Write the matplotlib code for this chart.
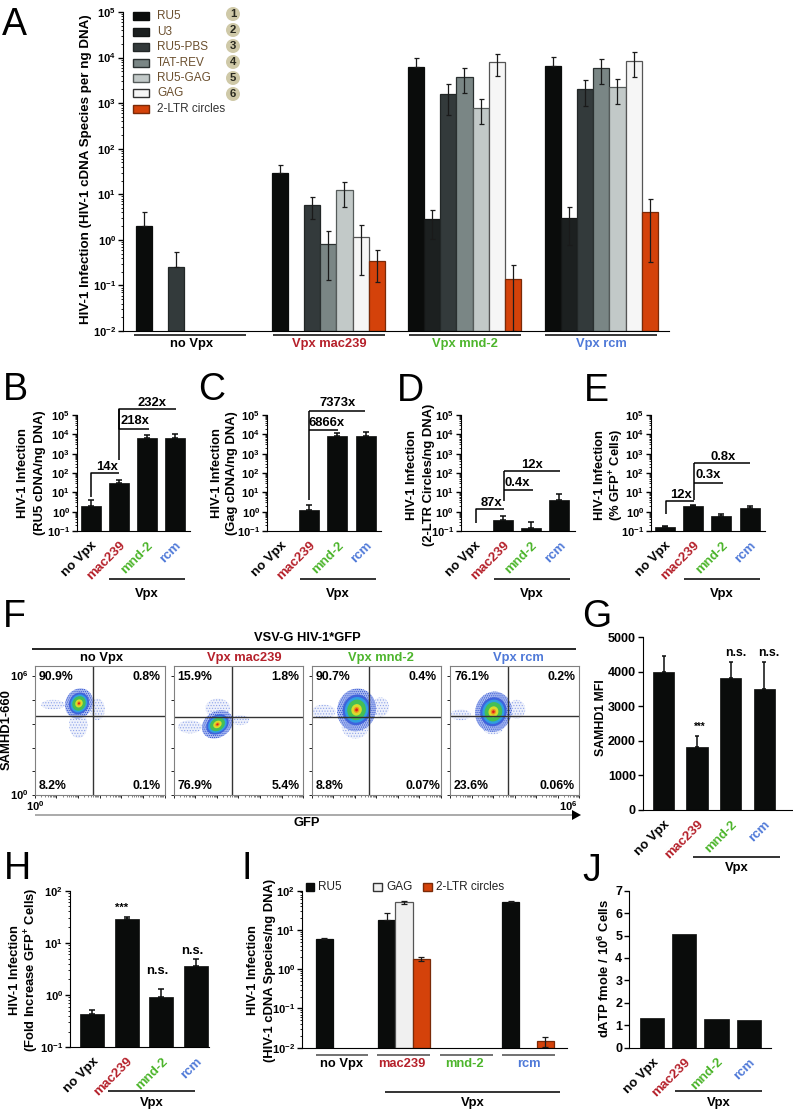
import math

import matplotlib
matplotlib.use("Agg")
import matplotlib.pyplot as plt
from matplotlib.lines import Line2D
from matplotlib.patches import Ellipse, Polygon, Rectangle
from matplotlib.ticker import FuncFormatter, LogLocator, NullFormatter
from matplotlib.transforms import ScaledTranslation

W, H = 793, 1112
BLACK = "#0a0c0b"
RED = "#b5202a"
GREEN = "#4db52c"
BLUE = "#4f79d8"
ORANGE = "#d4420a"

# panel A
GROUPS = ["no Vpx", "Vpx mac239", "Vpx mnd-2", "Vpx rcm"]
GROUP_COLORS = ["black", RED, GREEN, BLUE]
SPECIES = ["RU5", "U3", "RU5-PBS", "TAT-REV", "RU5-GAG", "GAG", "2-LTR circles"]
SPECIES_COLORS = [BLACK, "#1c2020", "#333a3b", "#7a8685", "#c2c9c8", "#f6f6f6", ORANGE]
SPECIES_EDGES = [BLACK, "#141616", "#222727", "#2a3030", "#555b5a", "#555555", "#7a2a08"]
A_VALUES = [
    [2.0, 29, 6300, 6620],
    [None, None, 2.8, 3.0],
    [0.26, 5.7, 1580, 2030],
    [None, 0.83, 3800, 5890],
    [None, 12.2, 789, 2210],
    [None, 1.17, 7970, 8530],
    [None, 0.35, 0.14, 4.07],
]
A_UPPER = [
    [4.0, 45, 9600, 10400],
    [None, None, 4.5, 5.16],
    [0.53, 8.6, 2620, 3150],
    [None, 1.56, 5790, 9130],
    [None, 18.9, 1225, 3430],
    [None, 2.14, 11970, 13200],
    [None, 0.585, 0.278, 7.87],
]
A_LOWER = [
    [2.0, 29, 6300, 6620],
    [None, None, 1.02, 0.79],
    [0.26, 2.86, 553, 845],
    [None, 0.13, 1690, 2570],
    [None, 5.3, 351, 935],
    [None, 0.173, 3924, 3730],
    [None, 0.116, 0.0101, 0.33],
]

# panels B-E, same four categories
CATS = ["no Vpx", "mac239", "mnd-2", "rcm"]
CAT_COLORS = ["black", RED, GREEN, BLUE]
B_VALUES = [2.06, 29.8, 6450, 6700]
B_UPPER = [4.06, 44, 9230, 10000]
C_VALUES = [None, 1.17, 7870, 8520]
C_UPPER = [None, 2.2, 11300, 12600]
D_VALUES = [None, 0.37, 0.143, 4.06]
D_UPPER = [None, 0.6, 0.28, 8.0]
E_VALUES = [0.155, 1.98, 0.625, 1.56]
E_UPPER = [0.19, 2.3, 0.73, 1.9]

# panel F, flow plots
F_TITLES = ["no Vpx", "Vpx mac239", "Vpx mnd-2", "Vpx rcm"]
F_UL = ["90.9%", "15.9%", "90.7%", "76.1%"]
F_UR = ["0.8%", "1.8%", "0.4%", "0.2%"]
F_LL = ["8.2%", "76.9%", "8.8%", "23.6%"]
F_LR = ["0.1%", "5.4%", "0.07%", "0.06%"]
F_VLINE = [2.68, 2.7, 2.68, 2.68]
F_HLINE = [3.32, 3.28, 3.3, 3.32]
# dense population: x, y, width, height in decades, tilt
F_MAIN = [(2.05, 3.85, 1.35, 1.2, 40), (2.03, 2.97, 1.5, 1.1, 25), (2.09, 3.58, 1.85, 1.75, 40), (2.02, 3.5, 1.75, 1.65, 40)]
F_SPARSE = [
    [(2.02, 2.95, 0.85, 1.1), (0.85, 3.8, 1.1, 0.4), (2.9, 3.6, 0.7, 0.9)],
    [(2.05, 3.65, 1.15, 0.8), (3.07, 3.15, 0.85, 0.42), (0.76, 2.87, 1.1, 0.55)],
    [(2.03, 2.88, 1.25, 1.0), (0.56, 3.5, 1.1, 0.6), (3.2, 3.7, 0.8, 0.8)],
    [(2.0, 2.95, 1.1, 0.8), (0.5, 3.37, 0.95, 0.45), (3.1, 3.6, 0.8, 0.8)],
]
F_LAYERS = [0.72, 0.6, 0.48, 0.27, 0.14, 0.07]
F_LAYER_COLORS = ["#3f63dc", "#2f9fe0", "#45bf55", "#d8dc2c", "#f09020", "#d8201a"]

# panel G
G_VALUES = [3980, 1808, 3817, 3510]
G_UPPER = [4460, 2125, 4270, 4290]

# panel H
H_VALUES = [0.43, 28.6, 0.92, 3.55]
H_UPPER = [0.52, 31.8, 1.29, 5.0]

# panel I
I_GROUPS = ["no Vpx", "mac239", "mnd-2", "rcm"]
I_RU5 = [5.87, 18.3, None, 52.5]
I_RU5_UP = [6.1, 26.5, None, 55.6]
I_GAG = [None, 50.5, None, None]
I_GAG_UP = [None, 55.6, None, None]
I_GAG_LOW = [None, 46, None, None]
I_LTR = [None, 1.82, None, 0.0151]
I_LTR_UP = [None, 2.0, None, 0.019]
I_LTR_LOW = [None, 1.62, None, 0.0102]

# panel J
J_VALUES = [1.34, 5.08, 1.29, 1.25]

plt.rcParams["font.family"] = ["Liberation Sans", "DejaVu Sans"]
plt.rcParams["mathtext.fontset"] = "custom"
plt.rcParams["mathtext.bf"] = "Liberation Sans:bold"
plt.rcParams["mathtext.rm"] = "Liberation Sans"
plt.rcParams["hatch.linewidth"] = 0.5

fig = plt.figure(figsize=(W / 100, H / 100), dpi=100)


def px_axes(left, top, right, bottom):
    ax = fig.add_axes([left / W, 1 - bottom / H, (right - left) / W, (bottom - top) / H])
    ax.patch.set_alpha(0)
    ax.spines["top"].set_visible(False)
    ax.spines["right"].set_visible(False)
    ax.tick_params(axis="x", length=0)
    ax.tick_params(axis="y", which="major", length=3.5, width=1, pad=1.5)
    return ax


def ftext(x, y, s, size=9.4, weight="bold", color="black", ha="center", va="center", rotation=0):
    fig.text(x / W, 1 - y / H, s, fontsize=size, fontweight=weight, color=color,
             ha=ha, va=va, rotation=rotation)


def fline(xs, ys, lw=1.1, color="black"):
    fig.add_artist(Line2D([x / W for x in xs], [1 - y / H for y in ys], lw=lw, color=color,
                          solid_capstyle="butt"))


def frect(x, y, w, h, face, edge):
    fig.add_artist(Rectangle((x / W, 1 - (y + h) / H), w / W, h / H, facecolor=face,
                             edgecolor=edge, lw=1, transform=fig.transFigure))


def log_ticks(ax, ymin, ymax):
    ax.set_yscale("log")
    ax.set_ylim(ymin, ymax)
    ax.yaxis.set_major_locator(LogLocator(base=10, numticks=12))
    ax.yaxis.set_minor_locator(LogLocator(base=10, subs=range(2, 10), numticks=12))
    ax.yaxis.set_minor_formatter(NullFormatter())
    ax.yaxis.set_major_formatter(FuncFormatter(lambda v, p: r"$\mathbf{10^{%d}}$" % round(math.log10(v))))
    ax.tick_params(axis="y", which="minor", length=1.8, width=0.6)
    ax.tick_params(axis="y", which="major", labelsize=8)


def cat_bars(ax, values, upper, ymin, width=0.71, cap=2.4, dx=3, dy=4):
    for i, v in enumerate(values):
        if v is None:
            continue
        ax.bar(i, v - ymin, bottom=ymin, width=width, color=BLACK, edgecolor=BLACK, lw=0.5)
        if upper is not None:
            ax.errorbar(i, v, yerr=[[0], [upper[i] - v]], color=BLACK, lw=1.1, capsize=cap, capthick=1.1)
    ax.set_xlim(-0.5, 3.55)
    ax.set_xticks(range(4))
    ax.set_xticklabels(CATS, rotation=45, ha="right", va="top", rotation_mode="anchor",
                       fontsize=9.5, fontweight="bold")
    shift = ScaledTranslation(dx / 100, dy / 100, fig.dpi_scale_trans)
    for lab, c in zip(ax.get_xticklabels(), CAT_COLORS):
        lab.set_color(c)
        lab.set_transform(lab.get_transform() + shift)
    ax.tick_params(axis="x", pad=6)


def vpx_rule(x0, x1, y, text_y, color="#333333"):
    fline([x0, x1], [y, y], lw=1.4, color=color)
    ftext((x0 + x1) / 2, text_y, "Vpx", size=9.4)


# ---- A ----
ax = px_axes(123, 12, 669, 331)
log_ticks(ax, 1e-2, 1e5)
group_starts = [0.8, 9.25, 17.7, 26.2]
for s, (name, vals, ups, lows) in enumerate(zip(SPECIES, A_VALUES, A_UPPER, A_LOWER)):
    for g, v in enumerate(vals):
        if v is None:
            continue
        x = group_starts[g] + s + 0.5
        ax.bar(x, v - 1e-2, bottom=1e-2, width=1, color=SPECIES_COLORS[s], edgecolor=SPECIES_EDGES[s], lw=0.9)
        ax.errorbar(x, v, yerr=[[v - lows[g]], [ups[g] - v]], color="#1a1a1a", lw=0.9, capsize=1.8, capthick=0.9)
ax.set_xlim(0, 33.9)
ax.set_xticks([])
ftext(86, 169, "HIV-1 Infection (HIV-1 cDNA Species per ng DNA)", size=9.6, rotation=90)
for x0, x1, cx, g, c in zip([134, 273, 409, 545], [246, 385, 521, 657], [192, 329, 465, 601], GROUPS, GROUP_COLORS):
    fline([x0, x1], [334.7, 334.7])
    ftext(cx, 344.5, g, color=c, size=9.3)
for i, (name, col, edge) in enumerate(zip(SPECIES, SPECIES_COLORS, SPECIES_EDGES)):
    yc = 16.3 + i * 15.4
    frect(133, yc - 4, 16, 8, col, edge if col != "#f6f6f6" else "#333333")
    ftext(157, yc, name, size=8.5, weight="normal", color="#6b4f2e" if i < 6 else "#333333", ha="left")
    if i < 6:
        cy = 14 + i * 16
        fig.add_artist(Ellipse((233 / W, 1 - cy / H), 14 / W, 14 / H, facecolor="#cfc9a8",
                               edgecolor="none", transform=fig.transFigure))
        ftext(233, cy, str(i + 1), size=8.2, color="#2a2a20")

# ---- B ----
ax = px_axes(77, 415, 190, 531)
log_ticks(ax, 1e-1, 1e5)
cat_bars(ax, B_VALUES, B_UPPER, 1e-1)
ftext(23, 473, "HIV-1 Infection", rotation=90)
ftext(40, 473, "(RU5 cDNA/ng DNA)", rotation=90)
fline([90.7, 90.7, 119.3], [496.7, 472.7, 472.7])
ftext(106.7, 466.5, "14x")
fline([149, 119.3, 119.3, 176], [429.3, 429.3, 409, 409])
fline([119.3, 119.3], [460, 409])
ftext(135, 421.5, "218x")
ftext(152.3, 403.3, "232x")
vpx_rule(109, 185, 579, 594)

# ---- C ----
ax = px_axes(267, 415, 381, 531)
log_ticks(ax, 1e-1, 1e5)
cat_bars(ax, C_VALUES, C_UPPER, 1e-1)
ftext(217, 473, "HIV-1 Infection", rotation=90)
ftext(232, 473, "(Gag cDNA/ng DNA)", rotation=90)
fline([309, 309], [500, 410.7])
fline([309, 337.7], [430, 430])
fline([309, 365], [410.7, 410.7])
ftext(327, 423, "6866x")
ftext(337.7, 403.3, "7373x")
vpx_rule(300, 376, 579, 594)

# ---- D ----
ax = px_axes(460.7, 415, 575, 531)
log_ticks(ax, 1e-1, 1e5)
cat_bars(ax, D_VALUES, D_UPPER, 1e-1)
ftext(412, 475, "HIV-1 Infection", rotation=90)
ftext(429, 475, "(2-LTR Circles/ng DNA)", rotation=90)
fline([475.7, 475.7, 504.3], [522.7, 509, 509])
ftext(491, 503, "87x")
fline([503.7, 503.7], [500.7, 471.3])
fline([503.7, 532.7], [490.3, 490.3])
fline([503.7, 560.3], [471.3, 471.3])
ftext(517.7, 483.3, "0.4x")
ftext(532.3, 464.7, "12x")
vpx_rule(494, 570, 579, 594)

# ---- E ----
ax = px_axes(651, 415, 765, 531)
log_ticks(ax, 1e-1, 1e5)
cat_bars(ax, E_VALUES, E_UPPER, 1e-1)
ftext(600, 475, "HIV-1 Infection", rotation=90)
ftext(616.5, 475, r"(% GFP$^{\mathbf{+}}$ Cells)", rotation=90)
fline([665.7, 665.7, 694], [514.3, 501, 501])
ftext(681, 495, "12x")
fline([694, 694], [500, 463.3])
fline([694, 722.7], [482.7, 482.7])
fline([694, 750], [463.3, 463.3])
ftext(707.7, 475.3, "0.3x")
ftext(722.7, 456.7, "0.8x")
vpx_rule(684, 760, 579, 594)

# ---- F ----
ftext(307, 637.7, "VSV-G HIV-1*GFP", size=9.3)
fline([32, 576], [648.7, 648.7], lw=1.2)
box_left = [34.6, 173.5, 311.6, 450]
box_right = [164.5, 303.4, 440.7, 579]
box_cx = [101, 244.6, 381, 518]
BOX_TOP, BOX_BOTTOM = 665.7, 795.3
title_colors = ["black", RED, GREEN, BLUE]
for i in range(4):
    ax = fig.add_axes([box_left[i] / W, 1 - BOX_BOTTOM / H, (box_right[i] - box_left[i]) / W, (BOX_BOTTOM - BOX_TOP) / H])
    ax.set_xlim(0, 6)
    ax.set_ylim(0, 5.43)
    for sp in ax.spines.values():
        sp.set_color("#808080")
    ax.set_xticks(range(7))
    ax.set_xticks([t + m for t in range(6) for m in (0.3, 0.48, 0.6, 0.7, 0.78, 0.85, 0.9, 0.95)], minor=True)
    ax.set_yticks(range(6))
    ax.set_xticklabels([])
    ax.set_yticklabels([])
    ax.tick_params(which="major", length=2.5, width=0.7, color="#222222")
    ax.tick_params(which="minor", length=1.2, width=0.4, color="#222222")
    for bx, by, bw, bh in F_SPARSE[i]:
        ax.add_patch(Ellipse((bx, by), bw, bh, facecolor="#eef1fb", edgecolor="#8fa4ea", hatch="......", lw=0))
    mx, my, mw, mh, tilt = F_MAIN[i]
    ax.add_patch(Ellipse((mx, my), mw, mh, angle=tilt, facecolor="#a9baf0", edgecolor="#2f50d0",
                         hatch="........", lw=0))
    for scale, col in zip(F_LAYERS, F_LAYER_COLORS):
        ax.add_patch(Ellipse((mx, my), mw * scale, mh * scale, angle=tilt, facecolor=col, edgecolor="none"))
    ax.axvline(F_VLINE[i], color="#333333", lw=1)
    ax.axhline(F_HLINE[i], color="#333333", lw=1)
    ftext(box_cx[i], 657.7, F_TITLES[i], size=9.3, color=title_colors[i])
    ftext(box_left[i] + 4, 676.7, F_UL[i], size=8.8, ha="left")
    ftext(box_right[i] - 4, 676.7, F_UR[i], size=8.8, ha="right")
    ftext(box_left[i] + 4, 786, F_LL[i], size=8.8, ha="left")
    ftext(box_right[i] - (0 if i == 2 else 4), 786, F_LR[i], size=8.8, ha="right")
ftext(28, 676, r"$\mathbf{10^{6}}$", size=8, ha="right")
ftext(28, 795, r"$\mathbf{10^{0}}$", size=8, ha="right")
ftext(35, 806, r"$\mathbf{10^{0}}$", size=8)
ftext(568, 806, r"$\mathbf{10^{6}}$", size=8)
ftext(7, 729.3, "SAMHD1-660", size=9.4, rotation=90)
fline([35, 572], [815, 815], lw=1.4, color="#aaaaaa")
fig.add_artist(Polygon([(572 / W, 1 - 810 / H), (581 / W, 1 - 815 / H), (572 / W, 1 - 820 / H)],
                       closed=True, facecolor="black", edgecolor="none", transform=fig.transFigure))
ftext(307, 823.5, "GFP", size=9.3)

# ---- G ----
ax = px_axes(642.7, 637, 791.7, 810)
ax.set_ylim(0, 5000)
ax.set_yticks(range(0, 5001, 1000))
ax.tick_params(axis="y", labelsize=9)
for lab in ax.get_yticklabels():
    lab.set_fontweight("bold")
cat_bars(ax, G_VALUES, G_UPPER, 0, width=0.63, cap=1.5, dx=5, dy=4)
ax.set_xlim(-0.62, 3.82)
ftext(601, 718, "SAMHD1 MFI", rotation=90, size=8.8)
ftext(700, 727, "***", size=7)
ftext(736, 653, "n.s.", size=8.8)
ftext(769, 653, "n.s.", size=8.8)
vpx_rule(693, 780, 856.7, 868)

# ---- H ----
ax = px_axes(70, 890.7, 209, 1047.3)
log_ticks(ax, 1e-1, 1e2)
cat_bars(ax, H_VALUES, H_UPPER, 1e-1, width=0.7, dx=1, dy=8)
ax.set_xlim(-0.64, 3.38)
ftext(15, 970, "HIV-1 Infection", rotation=90)
ftext(32, 970, r"(Fold Increase GFP$^{\mathbf{+}}$ Cells)", rotation=90)
ftext(122, 908, "***", size=8)
ftext(157, 971, "n.s.", size=9.3)
ftext(192, 951, "n.s.", size=9.3)
vpx_rule(108, 195, 1091, 1103)

# ---- I ----
ax = px_axes(302, 890.7, 567, 1047.7)
log_ticks(ax, 1e-2, 1e2)
slot = 3.58
starts = [0.79 + slot * g for g in range(4)]
i_series = [
    (I_RU5, I_RU5_UP, I_RU5, 0, BLACK, BLACK),
    (I_GAG, I_GAG_UP, I_GAG_LOW, 1, "#f0f0f0", "#555555"),
    (I_LTR, I_LTR_UP, I_LTR_LOW, 2, ORANGE, "#7a2a08"),
]
for vals, ups, lows, off, col, edge in i_series:
    for g, v in enumerate(vals):
        if v is None:
            continue
        x = starts[g] + off + 0.5
        ax.bar(x, v - 1e-2, bottom=1e-2, width=1, color=col, edgecolor=edge, lw=0.9)
        ax.errorbar(x, v, yerr=[[v - lows[g]], [ups[g] - v]], color="#1a1a1a", lw=0.9, capsize=2.2, capthick=0.9)
ax.set_xlim(0, 15.27)
ax.set_xticks([])
ftext(253, 970, "HIV-1 Infection", rotation=90)
ftext(270, 970, "(HIV-1 cDNA Species/ng DNA)", rotation=90)
for x0, x1, cx, g, c in zip([316, 377, 440, 502], [368, 430, 493, 555], [342, 402, 464, 529], I_GROUPS, CAT_COLORS):
    fline([x0, x1], [1054.7, 1054.7], lw=1.3, color="#666666")
    ftext(cx, 1064, g, color=c, size=9.3)
vpx_rule(385, 560, 1091.7, 1103)
frect(306, 883.3, 8, 8, BLACK, BLACK)
ftext(318.3, 887, "RU5", size=8.5, weight="normal", color="#222222", ha="left")
frect(373, 883.3, 8.5, 8, "#f0f0f0", "#333333")
ftext(386, 887, "GAG", size=8.5, weight="normal", color="#222222", ha="left")
frect(423.5, 883.3, 8.5, 8, ORANGE, "#7a2a08")
ftext(436, 887, "2-LTR circles", size=8.5, weight="normal", color="#222222", ha="left")

# ---- J ----
ax = px_axes(629.3, 890.7, 770.7, 1047.7)
ax.set_ylim(0, 7)
ax.set_yticks(range(8))
ax.tick_params(axis="y", labelsize=9)
for lab in ax.get_yticklabels():
    lab.set_fontweight("bold")
cat_bars(ax, J_VALUES, None, 0, width=0.75, dx=1, dy=8)
ax.set_xlim(-0.72, 3.69)
ftext(604, 968, r"dATP fmole / 10$^{\mathbf{6}}$ Cells", rotation=90)
vpx_rule(675, 762, 1091, 1103)

# panel letters
for letter, x, y in [("A", 2, 35), ("B", 3, 400), ("C", 198, 400), ("D", 397, 400.7), ("E", 584, 400.7),
                     ("F", 3, 627), ("G", 582, 627), ("H", 4, 879), ("I", 241, 879), ("J", 582, 881)]:
    ftext(x, y, letter, size=27, weight="normal", ha="left", va="baseline")

fig.savefig("out.png", dpi=100)
print("Saved out.png")
